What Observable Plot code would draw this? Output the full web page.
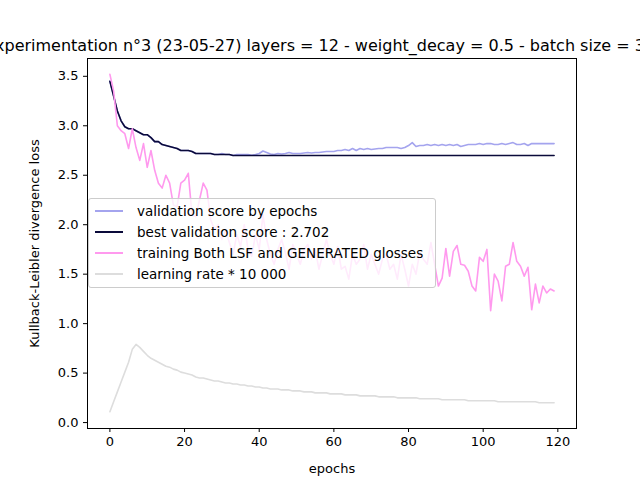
<!DOCTYPE html>
<html><head><meta charset="utf-8">
<script src="https://cdn.jsdelivr.net/npm/d3@7"></script>
<script src="https://cdn.jsdelivr.net/npm/@observablehq/plot@0.6"></script>
<style>
body{margin:0;background:#fff;font-family:"DejaVu Sans",sans-serif}
#wrap{position:relative;width:640px;height:480px;overflow:hidden}
#title{position:absolute;top:36px;left:0;width:640px;text-align:center;font-size:16px;white-space:nowrap;display:flex;justify-content:center}
#legend{position:absolute;left:88px;top:198px;width:346px;height:87px;background:rgba(255,255,255,0.8);border:1px solid #ccc;border-radius:3px;font-size:13.5px}
.row{display:flex;align-items:center;height:21px;margin-left:6px}
.sw{width:28px;height:0;border-top:2px solid;margin-right:14px}
</style></head><body>
<div id="wrap"><div id="chart"></div><div id="title"><span>Experimentation n°3 (23-05-27) layers = 12 - weight_decay = 0.5 - batch size = 32</span></div><div id="legend"></div></div>
<script>
const training = [3.52,3.35,3.0,2.95,2.92,2.77,2.97,2.78,2.65,2.82,2.58,2.75,2.55,2.42,2.37,2.5,2.42,2.2,2.18,2.42,
2.45,2.52,2.1,2.08,2.25,2.42,2.35,2.05,1.95,2.0,1.85,1.95,1.82,1.7,1.9,1.78,2.0,1.75,1.68,1.9,
1.75,2.1,1.85,1.7,1.6,1.75,1.85,1.72,1.55,1.8,1.7,1.6,1.75,1.8,1.65,1.75,1.55,1.7,1.85,1.7,
1.6,1.78,1.55,1.58,1.45,1.7,1.6,1.65,1.8,1.55,1.7,1.6,1.5,1.65,1.7,1.55,1.6,1.45,1.7,1.55,
1.38,1.6,1.5,1.72,1.65,1.6,1.82,1.6,1.38,1.46,1.76,1.48,1.73,1.79,1.60,1.59,1.53,1.38,1.33,1.67,
1.63,1.75,1.13,1.50,1.43,1.23,1.58,1.60,1.82,1.63,1.58,1.48,1.57,1.14,1.40,1.21,1.38,1.31,1.35,1.33];
const validation = [3.45,3.3,3.15,3.05,2.99,2.97,2.97,2.95,2.93,2.91,2.91,2.88,2.84,2.84,2.81,2.80,2.79,2.78,2.77,2.75,
2.75,2.75,2.74,2.72,2.72,2.72,2.72,2.72,2.71,2.71,2.72,2.71,2.71,2.70,2.71,2.71,2.71,2.71,2.702,2.71,
2.72,2.745,2.73,2.715,2.71,2.72,2.715,2.72,2.73,2.72,2.72,2.72,2.725,2.73,2.725,2.73,2.73,2.735,2.74,2.74,
2.74,2.75,2.75,2.76,2.75,2.77,2.75,2.77,2.76,2.77,2.76,2.765,2.77,2.77,2.78,2.78,2.78,2.78,2.77,2.78,
2.80,2.83,2.79,2.80,2.80,2.81,2.80,2.81,2.80,2.81,2.80,2.81,2.80,2.81,2.79,2.80,2.81,2.81,2.81,2.82,
2.81,2.82,2.82,2.81,2.81,2.82,2.81,2.82,2.83,2.81,2.81,2.82,2.80,2.82,2.82,2.82,2.82,2.82,2.82,2.82];
const learningRate = [0.11,0.21,0.31,0.41,0.51,0.61,0.74,0.79,0.76,0.72,0.68,0.65,0.63,0.61,0.59,0.57,0.56,0.54,0.53,0.51,
0.50,0.49,0.48,0.46,0.45,0.45,0.44,0.43,0.42,0.42,0.41,0.40,0.40,0.39,0.39,0.38,0.38,0.37,0.37,0.36,
0.36,0.35,0.35,0.34,0.34,0.34,0.33,0.33,0.33,0.32,0.32,0.32,0.31,0.31,0.31,0.30,0.30,0.30,0.30,0.29,
0.29,0.29,0.29,0.28,0.28,0.28,0.28,0.27,0.27,0.27,0.27,0.27,0.26,0.26,0.26,0.26,0.26,0.25,0.25,0.25,
0.25,0.25,0.25,0.24,0.24,0.24,0.24,0.24,0.24,0.23,0.23,0.23,0.23,0.23,0.23,0.23,0.22,0.22,0.22,0.22,
0.22,0.22,0.22,0.22,0.21,0.21,0.21,0.21,0.21,0.21,0.21,0.21,0.21,0.21,0.21,0.20,0.20,0.20,0.20,0.20];
// best score so far = running minimum of the validation score
const best = []
validation.forEach((v, i) => best.push(i === 0 ? v : Math.min(best[i - 1], v)))
const epochs = d3.range(training.length)
const xTicks = [0,20,40,60,80,100,120]
const yTicks = [0,0.5,1,1.5,2,2.5,3,3.5]

const series = [
  {name: 'validation score by epochs', values: validation, color: '#a4a4ee'},
  {name: 'best validation score : 2.702', values: best, color: '#0a0a3a'},
  {name: 'training Both LSF and GENERATED glosses', values: training, color: '#ff99ee'},
  {name: 'learning rate * 10 000', values: learningRate, color: '#dddddd'},
]

const chart = Plot.plot({
  width: 640, height: 480,
  marginLeft: 87, marginRight: 64, marginTop: 58, marginBottom: 52,
  style: {fontFamily: '"DejaVu Sans", sans-serif', fontSize: '13px', color: '#000'},
  x: {domain: [-6, 125]},
  y: {domain: [-0.06, 3.68]},
  marks: [
    ...series.map(s => Plot.line(epochs, {x: d => d, y: d => s.values[d], stroke: s.color, strokeWidth: 1.6})),
    Plot.axisX({ticks: xTicks, tickSize: 4, tickPadding: 4, label: 'epochs', labelAnchor: 'center', labelArrow: 'none', labelOffset: 44}),
    Plot.axisY({ticks: yTicks, tickSize: 4, tickFormat: d3.format('.1f'), label: 'Kullback-Leibler divergence loss', labelAnchor: 'center', labelArrow: 'none', labelOffset: 58}),
    Plot.frame({stroke: '#000'}),
  ],
})
d3.select('#chart').append(() => chart)

d3.select('#legend').selectAll('div').data(series).join('div').attr('class', 'row')
  .html(s => `<span class="sw" style="border-color:${s.color}"></span><span>${s.name}</span>`)
d3.select('#legend').style('padding-top', '1px')
</script></body></html>
